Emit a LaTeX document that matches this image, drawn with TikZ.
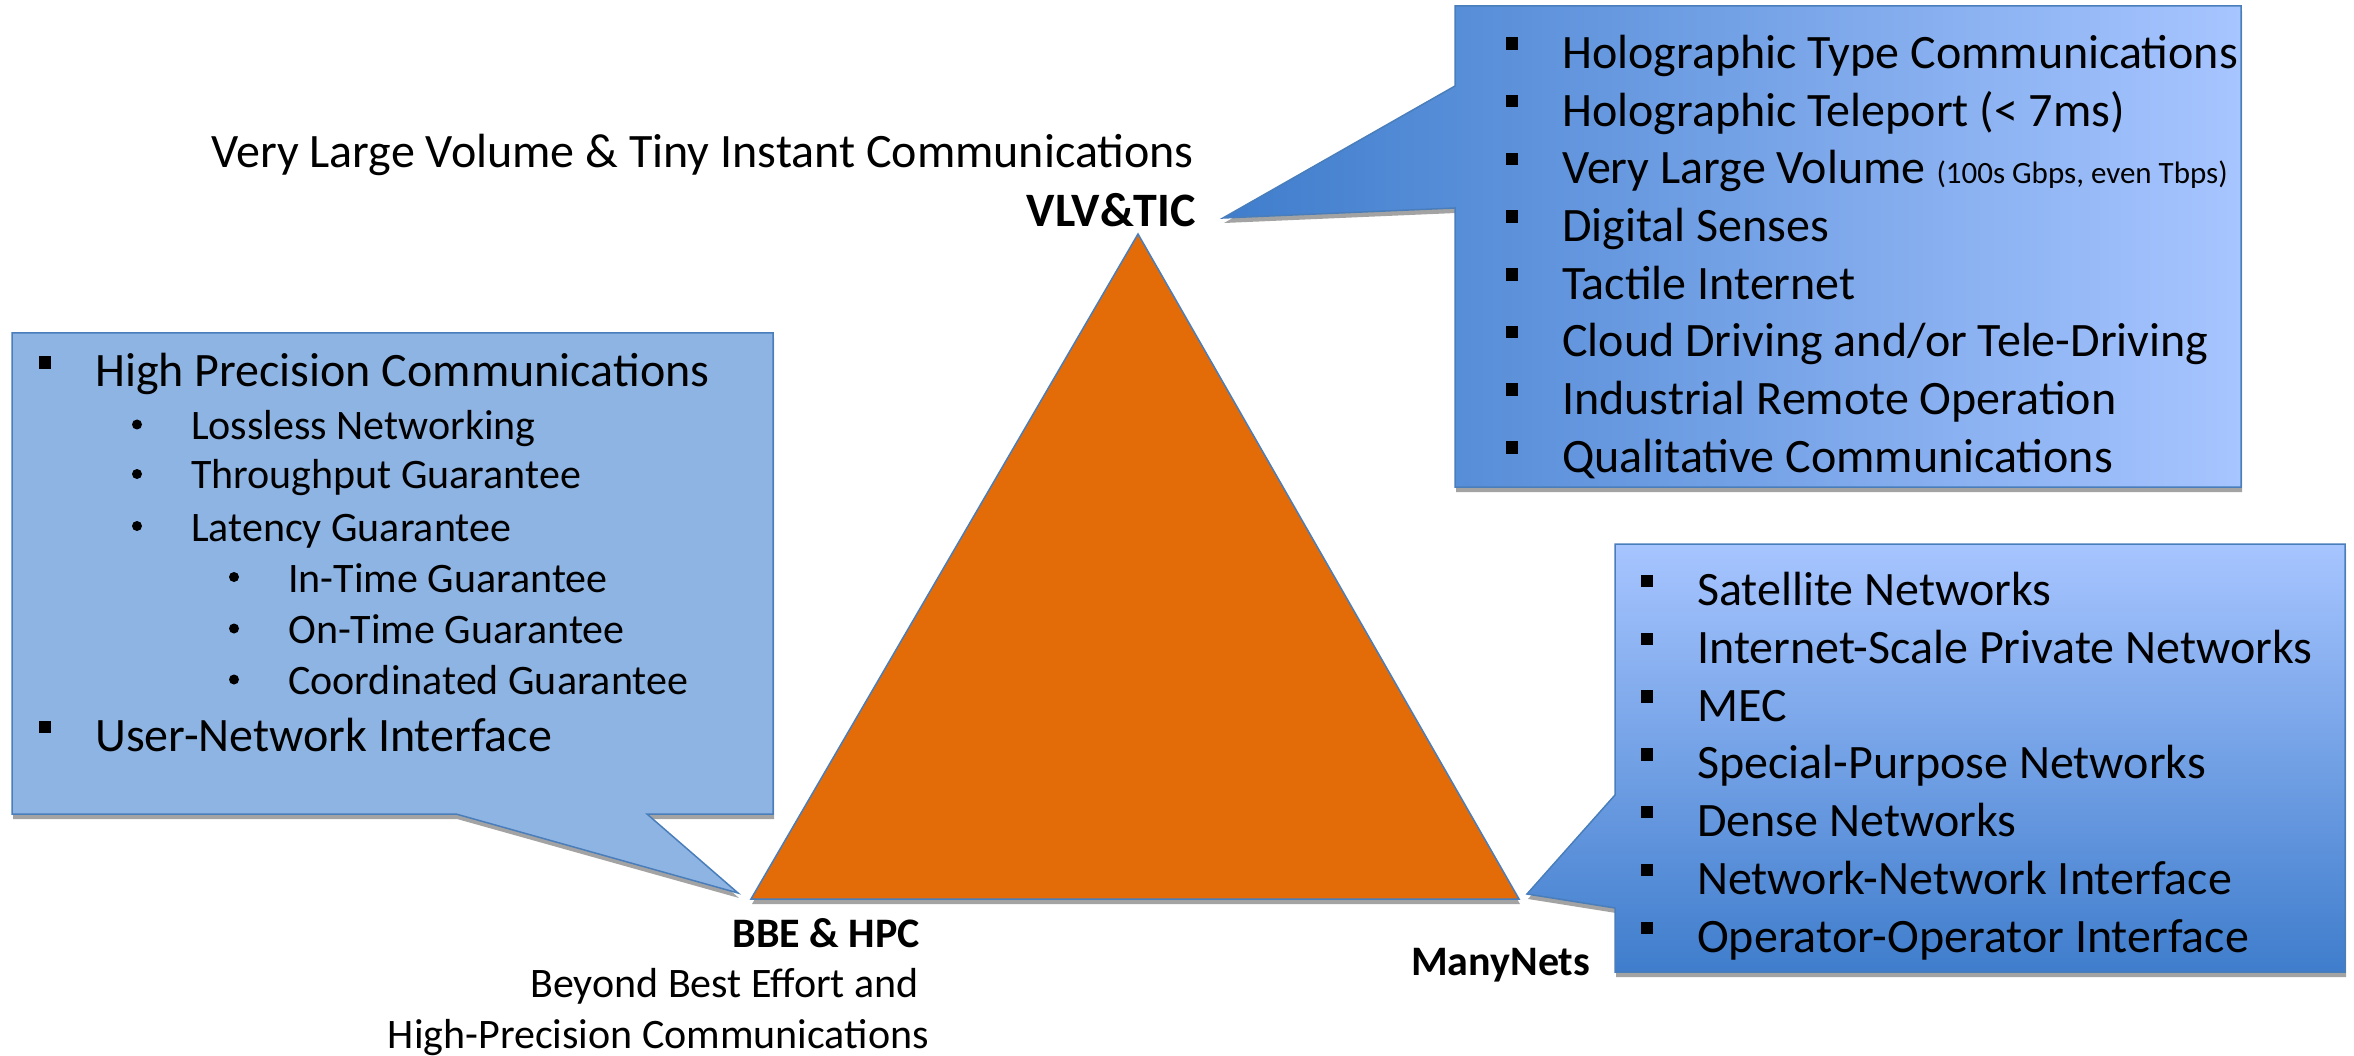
\documentclass[tikz,border=0pt]{standalone}
\usepackage{fontspec}
\setmainfont{Carlito}
\definecolor{tri}{HTML}{E36C09}
\definecolor{edge}{HTML}{4A7EBB}
\definecolor{dkb}{HTML}{3F7DCC}
\definecolor{ltb}{HTML}{A7C5FF}
\definecolor{lbox}{HTML}{8EB4E3}
\definecolor{shd}{HTML}{A3A3A3}
\tikzset{
  itemtext/.style={font=\fontsize{48}{58}\selectfont, inner sep=0pt, anchor=base west},
  subtext/.style={font=\fontsize{42}{50}\selectfont, inner sep=0pt, anchor=base west},
  lbl/.style={font=\fontsize{48}{58}\selectfont, inner sep=0pt},
  lblsmall/.style={font=\fontsize{42}{50}\selectfont, inner sep=0pt},
  lblbold/.style={font=\fontsize{48}{58}\selectfont\bfseries, inner sep=0pt},
  lblboldsmall/.style={font=\fontsize{42}{50}\selectfont\bfseries, inner sep=0pt},
  sq/.style={rectangle, fill=black, minimum size=12.5pt, inner sep=0pt},
  rdot/.style={circle, fill=black, minimum size=10pt, inner sep=0pt},
  shadowfill/.style={fill=shd, draw=none, shift={(1,5)}},
  outline/.style={draw=edge, line width=1.5pt, line join=miter},
}
\newcommand{\vlvshape}{(1455,6) -- (2241,6) -- (2241,487) -- (1455,487) -- (1455,208) -- (1223,218) -- (1455,86) -- cycle}
\newcommand{\bbeshape}{(12,333) -- (773,333) -- (773,814) -- (647,814) -- (738,893) -- (456,814) -- (12,814) -- cycle}
\newcommand{\manyshape}{(1615,544) -- (2345,544) -- (2345,972) -- (1615,972) -- (1615,908) -- (1527,894) -- (1615,795) -- cycle}
\newcommand{\trishape}{(1138,234) -- (1519,899) -- (751,899) -- cycle}
\begin{document}
\begin{tikzpicture}[x=1pt, y=-1pt]
\useasboundingbox (0,0) rectangle (2354,1056);

% ---------- shadows ----------
\path[shadowfill] \vlvshape;
\path[shadowfill] \bbeshape;
\path[shadowfill] \manyshape;
\path[shadowfill] \trishape;

% ---------- triangle ----------
\draw[outline, fill=tri] \trishape;

% ---------- callouts ----------
\draw[outline, left color=dkb, right color=ltb] \vlvshape;
\draw[outline, fill=lbox] \bbeshape;
\draw[outline, top color=ltb, bottom color=dkb] \manyshape;

% ---------- top box list ----------
\node[sq] (tb1) at (1512,43.5) {};
\node[itemtext] (tt1) at (1562,68.5) {Holographic Type Communications};
\node[sq] (tb2) at (1512,101.2) {};
\node[itemtext] (tt2) at (1562,126.2) {Holographic Teleport (< 7ms)};
\node[sq] (tb3) at (1512,158.9) {};
\node[itemtext] (tt3) at (1562,183.9) {Very Large Volume {\fontsize{31}{34}\selectfont(100s Gbps, even Tbps)}};
\node[sq] (tb4) at (1512,216.6) {};
\node[itemtext] (tt4) at (1562,241.6) {Digital Senses};
\node[sq] (tb5) at (1512,274.3) {};
\node[itemtext] (tt5) at (1562,299.3) {Tactile Internet};
\node[sq] (tb6) at (1512,332) {};
\node[itemtext] (tt6) at (1562,357) {Cloud Driving and/or Tele-Driving};
\node[sq] (tb7) at (1512,389.7) {};
\node[itemtext] (tt7) at (1562,414.7) {Industrial Remote Operation};
\node[sq] (tb8) at (1512,447.4) {};
\node[itemtext] (tt8) at (1562,472.4) {Qualitative Communications};

% ---------- left box list ----------
\node[sq] (lb1) at (45,362.5) {};
\node[itemtext] (lt1) at (95,387) {High Precision Communications};
\node[rdot] (ld1) at (137,424.5) {};
\node[subtext] (lt2) at (191,439.5) {Lossless Networking};
\node[rdot] (ld2) at (137,474) {};
\node[subtext] (lt3) at (191,489) {Throughput Guarantee};
\node[rdot] (ld3) at (137,526) {};
\node[subtext] (lt4) at (191,541) {Latency Guarantee};
\node[rdot] (ld4) at (234,577) {};
\node[subtext] (lt5) at (288,592) {In-Time Guarantee};
\node[rdot] (ld5) at (234,628.5) {};
\node[subtext] (lt6) at (288,643.5) {On-Time Guarantee};
\node[rdot] (ld6) at (234,679.5) {};
\node[subtext] (lt7) at (288,694.5) {Coordinated Guarantee};
\node[sq] (lb2) at (45,727) {};
\node[itemtext] (lt8) at (95,751.5) {User-Network Interface};

% ---------- right box list ----------
\node[sq] (rb1) at (1647,581) {};
\node[itemtext] (rt1) at (1697,605.5) {Satellite Networks};
\node[sq] (rb2) at (1647,638.8) {};
\node[itemtext] (rt2) at (1697,663.3) {Internet-Scale Private Networks};
\node[sq] (rb3) at (1647,696.6) {};
\node[itemtext] (rt3) at (1697,721.1) {MEC};
\node[sq] (rb4) at (1647,754.4) {};
\node[itemtext] (rt4) at (1697,778.9) {Special-Purpose Networks};
\node[sq] (rb5) at (1647,812.2) {};
\node[itemtext] (rt5) at (1697,836.7) {Dense Networks};
\node[sq] (rb6) at (1647,870) {};
\node[itemtext] (rt6) at (1697,894.5) {Network-Network Interface};
\node[sq] (rb7) at (1647,927.8) {};
\node[itemtext] (rt7) at (1697,952.3) {Operator-Operator Interface};

% ---------- vertex labels ----------
\node[lbl, anchor=base east] (vlvlong) at (1194,168) {Very Large Volume \& Tiny Instant Communications};
\node[lblbold, anchor=base east] (vlv) at (1196,227) {VLV\&TIC};
\node[lblboldsmall, anchor=base east] (bbe) at (920,947) {BBE \& HPC};
\node[lblsmall, anchor=base east] (bbe1) at (919,997) {Beyond Best Effort and};
\node[lblsmall, anchor=base east] (bbe2) at (929,1048) {High-Precision Communications};
\node[lblboldsmall, anchor=base west] (many) at (1411,975) {ManyNets};
\end{tikzpicture}
\end{document}
